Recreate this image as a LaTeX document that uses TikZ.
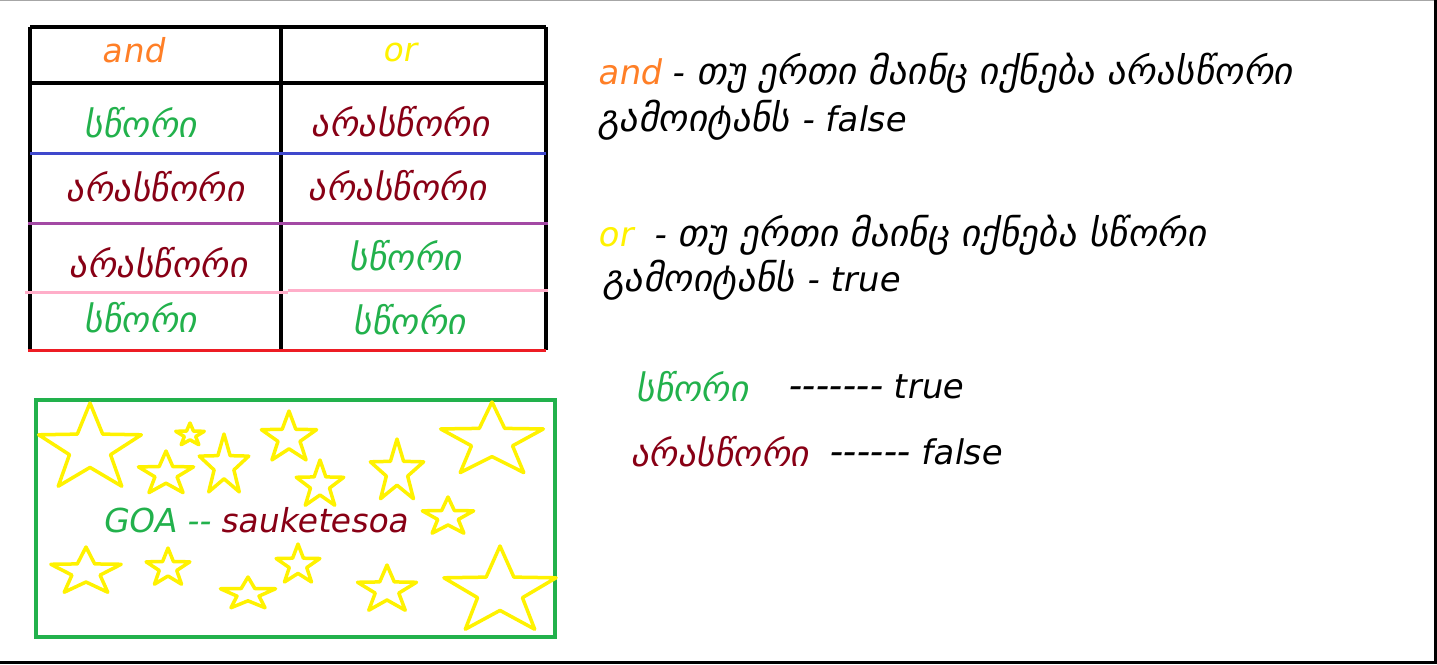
\documentclass[tikz,border=0pt]{standalone}
\usepackage{fontspec}
\usetikzlibrary{positioning}
\newfontfamily\geo[FakeSlant=0.18]{DejaVu Sans}
\newcommand\lt{\fontsize{34}{38}\selectfont}

\definecolor{paintgreen}{RGB}{34,177,76}
\definecolor{paintred}{RGB}{136,0,21}
\definecolor{paintorange}{RGB}{255,127,39}
\definecolor{paintyellow}{RGB}{255,242,0}
\definecolor{paintblue}{RGB}{63,72,204}
\definecolor{paintpurple}{RGB}{163,73,164}
\definecolor{paintpink}{RGB}{255,174,201}
\definecolor{paintbright}{RGB}{237,28,36}

\tikzset{
  tabline/.style={line width=4pt, black},
  rowline/.style={line width=3pt},
  cell/.style={font=\geo\fontsize{36}{40}\selectfont, inner sep=0pt},
  note/.style={font=\geo\fontsize{37.5}{42}\selectfont, inner sep=0pt, anchor=west},
  starline/.style={draw=paintyellow, line width=3.5pt, line join=round},
}

\begin{document}
\begin{tikzpicture}[x=1pt, y=-1pt]

    \useasboundingbox (0,0) rectangle (1437,664);
    \draw[line width=1pt, gray!70] (0,0.5) -- (1437,0.5);
    \draw[line width=3pt, black] (1435.5,0) -- (1435.5,664);
    \draw[line width=3pt, black] (0,662.5) -- (1437,662.5);

    % table
    \draw[tabline] (30,27) -- (546,27);
    \draw[tabline] (30,83) -- (548,83);
    \draw[tabline] (30,27) -- (30,350);
    \draw[tabline] (281,25) -- (281,350);
    \draw[tabline] (546,27) -- (546,350);
    \draw[rowline, paintblue] (30,153) -- (546,153);
    \draw[rowline, paintpurple] (28,223) -- (548,223);
    \draw[rowline, paintpink] (25,292) -- (288,292);
    \draw[rowline, paintpink] (288,290) -- (548,290);
    \draw[rowline, paintbright] (28,350) -- (546,350);

    \node[cell, text=paintorange, font=\geo\fontsize{33}{36}\selectfont] (andhead) at (133,50) {and};
    \node[cell, text=paintyellow, font=\geo\fontsize{33}{36}\selectfont] (orhead) at (399,52) {or};

    \node[cell, text=paintgreen] (and1) at (140,123) {სწორი};
    \node[cell, text=paintred] (or1) at (400,122) {არასწორი};
    \node[cell, text=paintred] (and2) at (155,187) {არასწორი};
    \node[cell, text=paintred] (or2) at (397,186) {არასწორი};
    \node[cell, text=paintred] (and3) at (158,263) {არასწორი};
    \node[cell, text=paintgreen] (or3) at (405,256) {სწორი};
    \node[cell, text=paintgreen] (and4) at (140,318) {სწორი};
    \node[cell, text=paintgreen] (or4) at (409,320) {სწორი};

    % rules
    \node[note] (andrule) at (597,73) {{\lt\textcolor{paintorange}{and} -} თუ ერთი მაინც იქნება არასწორი};
    \node[note] (andres) at (597,120) {გამოიტანს {\lt - false}};
    \node[note] (orrule) at (597,235) {{\lt\textcolor{paintyellow}{or}\ \ -} თუ ერთი მაინც იქნება სწორი};
    \node[note] (orres) at (602,280) {გამოიტანს {\lt - true}};

    \node[note, text=paintgreen, font=\geo\fontsize{36}{40}\selectfont] (truekey) at (635,387) {სწორი};
    \node[note] (trueval) at (787,387) {-------{\lt\ true}};
    \node[note, text=paintred, font=\geo\fontsize{36}{40}\selectfont] (falsekey) at (630,452) {არასწორი};
    \node[note] (falseval) at (828,452) {------{\lt\ false}};

    % stars
    \node[draw=paintgreen, line width=4pt, minimum width=519pt, minimum height=237pt, inner sep=0pt] (goabox) at (295.5,518.5) {};
    \foreach \sx/\sy/\rx/\ry in {90/449/54/46, 190/435/15/12, 166/474/29/23, 224/466/26/32, 289/438/29/27,
        320/485/25/25, 397/472/28/33, 492/441/54/39, 448/517/27/20, 86/572/37/25, 168/568/23/20,
        248/594/29/17, 298/565/23/21, 387/590/31/25, 500/592/59/46}
      \draw[starline, shift={(\sx,\sy)}, xscale=\rx, yscale=\ry]
        (-90:1) -- (-54:0.4) -- (-18:1) -- (18:0.4) -- (54:1) -- (90:0.4) -- (126:1)
        -- (162:0.4) -- (198:1) -- (234:0.4) -- cycle;
    \node[cell, font=\geo\fontsize{33}{38}\selectfont] (goa) at (255,520) {\textcolor{paintgreen}{GOA --} \textcolor{paintred}{sauketesoa}};

\end{tikzpicture}
\end{document}
